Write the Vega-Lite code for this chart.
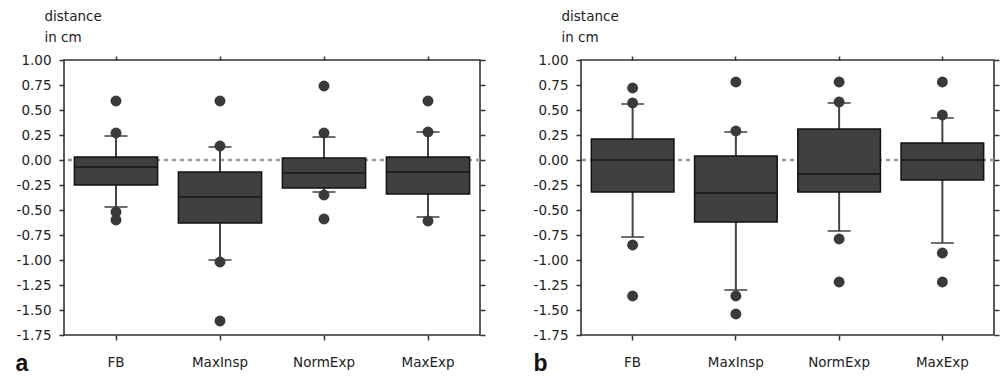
{
  "$schema": "https://vega.github.io/schema/vega-lite/v6.json",
  "padding": {"left": 14, "top": 8, "right": 0, "bottom": 0},
  "background": "white",
  "spacing": 45,
  "datasets": {
    "boxA": [
      {"cat": "FB", "q1": -0.25, "q3": 0.03, "med": -0.07, "lo": -0.47, "hi": 0.24},
      {"cat": "MaxInsp", "q1": -0.63, "q3": -0.12, "med": -0.37, "lo": -1.0, "hi": 0.13},
      {"cat": "NormExp", "q1": -0.28, "q3": 0.02, "med": -0.13, "lo": -0.32, "hi": 0.23},
      {"cat": "MaxExp", "q1": -0.34, "q3": 0.03, "med": -0.12, "lo": -0.57, "hi": 0.28}
    ],
    "outA": [
      {"cat": "FB", "v": 0.59}, {"cat": "FB", "v": 0.27}, {"cat": "FB", "v": -0.52}, {"cat": "FB", "v": -0.6},
      {"cat": "MaxInsp", "v": 0.59}, {"cat": "MaxInsp", "v": 0.14}, {"cat": "MaxInsp", "v": -1.02}, {"cat": "MaxInsp", "v": -1.61},
      {"cat": "NormExp", "v": 0.74}, {"cat": "NormExp", "v": 0.27}, {"cat": "NormExp", "v": -0.35}, {"cat": "NormExp", "v": -0.59},
      {"cat": "MaxExp", "v": 0.59}, {"cat": "MaxExp", "v": 0.28}, {"cat": "MaxExp", "v": -0.61}
    ],
    "boxB": [
      {"cat": "FB", "q1": -0.32, "q3": 0.21, "med": 0.0, "lo": -0.77, "hi": 0.56},
      {"cat": "MaxInsp", "q1": -0.62, "q3": 0.04, "med": -0.33, "lo": -1.3, "hi": 0.28},
      {"cat": "NormExp", "q1": -0.32, "q3": 0.31, "med": -0.14, "lo": -0.71, "hi": 0.57},
      {"cat": "MaxExp", "q1": -0.2, "q3": 0.17, "med": 0.0, "lo": -0.83, "hi": 0.42}
    ],
    "outB": [
      {"cat": "FB", "v": 0.72}, {"cat": "FB", "v": 0.57}, {"cat": "FB", "v": -0.85}, {"cat": "FB", "v": -1.36},
      {"cat": "MaxInsp", "v": 0.78}, {"cat": "MaxInsp", "v": 0.29}, {"cat": "MaxInsp", "v": -1.36}, {"cat": "MaxInsp", "v": -1.54},
      {"cat": "NormExp", "v": 0.78}, {"cat": "NormExp", "v": 0.58}, {"cat": "NormExp", "v": -0.79}, {"cat": "NormExp", "v": -1.22},
      {"cat": "MaxExp", "v": 0.78}, {"cat": "MaxExp", "v": 0.45}, {"cat": "MaxExp", "v": -0.93}, {"cat": "MaxExp", "v": -1.22}
    ]
  },
  "config": {
    "font": "DejaVu Sans",
    "view": {"stroke": "#333333", "strokeWidth": 1.6},
    "axis": {
      "domain": false,
      "grid": false,
      "tickColor": "#333333",
      "tickWidth": 1.5,
      "tickSize": 5,
      "labelFont": "DejaVu Sans",
      "labelFontSize": 13.5,
      "labelColor": "#222222",
      "titleFont": "DejaVu Sans"
    }
  },
  "hconcat": [
    {
      "width": 416,
      "height": 275,
      "resolve": {"axis": {"x": "independent", "y": "independent"}},
      "layer": [
        {
          "data": {"values": [{"z": 0}]},
          "mark": {"type": "rule", "color": "#999999", "strokeWidth": 2.5, "strokeDash": [4, 4]},
          "encoding": {"y": {"field": "z", "type": "quantitative", "axis": null, "scale": {"domain": [-1.75, 1.0], "nice": false, "zero": false}}}
        },
        {
          "data": {"name": "boxA"},
          "mark": {"type": "rule", "color": "#444444", "strokeWidth": 2},
          "encoding": {
            "x": {"field": "cat", "type": "nominal", "sort": ["FB", "MaxInsp", "NormExp", "MaxExp"], "axis": null, "scale": {"paddingInner": 0, "paddingOuter": 0}},
            "y": {"field": "lo", "type": "quantitative", "axis": null},
            "y2": {"field": "hi"}
          }
        },
        {
          "data": {"name": "boxA"},
          "mark": {"type": "tick", "color": "#333333", "thickness": 2, "size": 23},
          "encoding": {
            "x": {"field": "cat", "type": "nominal", "sort": ["FB", "MaxInsp", "NormExp", "MaxExp"], "axis": null},
            "y": {"field": "lo", "type": "quantitative", "axis": null}
          }
        },
        {
          "data": {"name": "boxA"},
          "mark": {"type": "tick", "color": "#333333", "thickness": 2, "size": 23},
          "encoding": {
            "x": {"field": "cat", "type": "nominal", "sort": ["FB", "MaxInsp", "NormExp", "MaxExp"], "axis": null},
            "y": {"field": "hi", "type": "quantitative", "axis": null}
          }
        },
        {
          "data": {"name": "boxA"},
          "mark": {"type": "bar", "fill": "#404040", "stroke": "#111111", "strokeWidth": 1.5, "width": {"band": 0.8}},
          "encoding": {
            "x": {"field": "cat", "type": "nominal", "sort": ["FB", "MaxInsp", "NormExp", "MaxExp"], "title": "a",
              "axis": {"orient": "bottom", "labelAngle": 0, "labelPadding": 15, "titleX": -49, "titleY": 35, "titleAlign": "left", "titleBaseline": "alphabetic", "titleFont": "Liberation Sans", "titleFontSize": 23, "titleFontWeight": "bold", "titleColor": "#111111"}},
            "y": {"field": "q1", "type": "quantitative", "title": ["distance", "in cm"],
              "axis": {"orient": "left", "values": [1, 0.75, 0.5, 0.25, 0, -0.25, -0.5, -0.75, -1, -1.25, -1.5, -1.75], "labelExpr": "replace(format(datum.value, '.2f'), '\u2212', '-')", "labelPadding": 8, "titleAngle": 0, "titleX": -20, "titleY": -40, "titleAlign": "left", "titleBaseline": "alphabetic", "titleFontSize": 13.5, "titleFontWeight": "normal", "titleColor": "#222222", "titleLineHeight": 21}},
            "y2": {"field": "q3"}
          }
        },
        {
          "data": {"name": "boxA"},
          "mark": {"type": "tick", "color": "#111111", "thickness": 2, "size": 82},
          "encoding": {
            "x": {"field": "cat", "type": "nominal", "sort": ["FB", "MaxInsp", "NormExp", "MaxExp"], "axis": null},
            "y": {"field": "med", "type": "quantitative", "axis": null}
          }
        },
        {
          "data": {"name": "outA"},
          "mark": {"type": "point", "filled": true, "shape": "circle", "size": 120, "color": "#3a3a3a", "opacity": 1},
          "encoding": {
            "x": {"field": "cat", "type": "nominal", "sort": ["FB", "MaxInsp", "NormExp", "MaxExp"], "axis": {"orient": "top", "labels": false, "title": null, "tickSize": 4}},
            "y": {"field": "v", "type": "quantitative", "axis": {"orient": "right", "labels": false, "title": null, "values": [1, 0.75, 0.5, 0.25, 0, -0.25, -0.5, -0.75, -1, -1.25, -1.5, -1.75]}}
          }
        }
      ]
    },
    {
      "width": 413,
      "height": 275,
      "resolve": {"axis": {"x": "independent", "y": "independent"}},
      "layer": [
        {
          "data": {"values": [{"z": 0}]},
          "mark": {"type": "rule", "color": "#999999", "strokeWidth": 2.5, "strokeDash": [4, 4]},
          "encoding": {"y": {"field": "z", "type": "quantitative", "axis": null, "scale": {"domain": [-1.75, 1.0], "nice": false, "zero": false}}}
        },
        {
          "data": {"name": "boxB"},
          "mark": {"type": "rule", "color": "#444444", "strokeWidth": 2},
          "encoding": {
            "x": {"field": "cat", "type": "nominal", "sort": ["FB", "MaxInsp", "NormExp", "MaxExp"], "axis": null, "scale": {"paddingInner": 0, "paddingOuter": 0}},
            "y": {"field": "lo", "type": "quantitative", "axis": null},
            "y2": {"field": "hi"}
          }
        },
        {
          "data": {"name": "boxB"},
          "mark": {"type": "tick", "color": "#333333", "thickness": 2, "size": 23},
          "encoding": {
            "x": {"field": "cat", "type": "nominal", "sort": ["FB", "MaxInsp", "NormExp", "MaxExp"], "axis": null},
            "y": {"field": "lo", "type": "quantitative", "axis": null}
          }
        },
        {
          "data": {"name": "boxB"},
          "mark": {"type": "tick", "color": "#333333", "thickness": 2, "size": 23},
          "encoding": {
            "x": {"field": "cat", "type": "nominal", "sort": ["FB", "MaxInsp", "NormExp", "MaxExp"], "axis": null},
            "y": {"field": "hi", "type": "quantitative", "axis": null}
          }
        },
        {
          "data": {"name": "boxB"},
          "mark": {"type": "bar", "fill": "#404040", "stroke": "#111111", "strokeWidth": 1.5, "width": {"band": 0.8}},
          "encoding": {
            "x": {"field": "cat", "type": "nominal", "sort": ["FB", "MaxInsp", "NormExp", "MaxExp"], "title": "b",
              "axis": {"orient": "bottom", "labelAngle": 0, "labelPadding": 15, "titleX": -48, "titleY": 35, "titleAlign": "left", "titleBaseline": "alphabetic", "titleFont": "Liberation Sans", "titleFontSize": 23, "titleFontWeight": "bold", "titleColor": "#111111"}},
            "y": {"field": "q1", "type": "quantitative", "title": ["distance", "in cm"],
              "axis": {"orient": "left", "values": [1, 0.75, 0.5, 0.25, 0, -0.25, -0.5, -0.75, -1, -1.25, -1.5, -1.75], "labelExpr": "replace(format(datum.value, '.2f'), '\u2212', '-')", "labelPadding": 8, "titleAngle": 0, "titleX": -20, "titleY": -40, "titleAlign": "left", "titleBaseline": "alphabetic", "titleFontSize": 13.5, "titleFontWeight": "normal", "titleColor": "#222222", "titleLineHeight": 21}},
            "y2": {"field": "q3"}
          }
        },
        {
          "data": {"name": "boxB"},
          "mark": {"type": "tick", "color": "#111111", "thickness": 2, "size": 82},
          "encoding": {
            "x": {"field": "cat", "type": "nominal", "sort": ["FB", "MaxInsp", "NormExp", "MaxExp"], "axis": null},
            "y": {"field": "med", "type": "quantitative", "axis": null}
          }
        },
        {
          "data": {"name": "outB"},
          "mark": {"type": "point", "filled": true, "shape": "circle", "size": 120, "color": "#3a3a3a", "opacity": 1},
          "encoding": {
            "x": {"field": "cat", "type": "nominal", "sort": ["FB", "MaxInsp", "NormExp", "MaxExp"], "axis": {"orient": "top", "labels": false, "title": null, "tickSize": 4}},
            "y": {"field": "v", "type": "quantitative", "axis": {"orient": "right", "labels": false, "title": null, "values": [1, 0.75, 0.5, 0.25, 0, -0.25, -0.5, -0.75, -1, -1.25, -1.5, -1.75]}}
          }
        }
      ]
    }
  ]
}
